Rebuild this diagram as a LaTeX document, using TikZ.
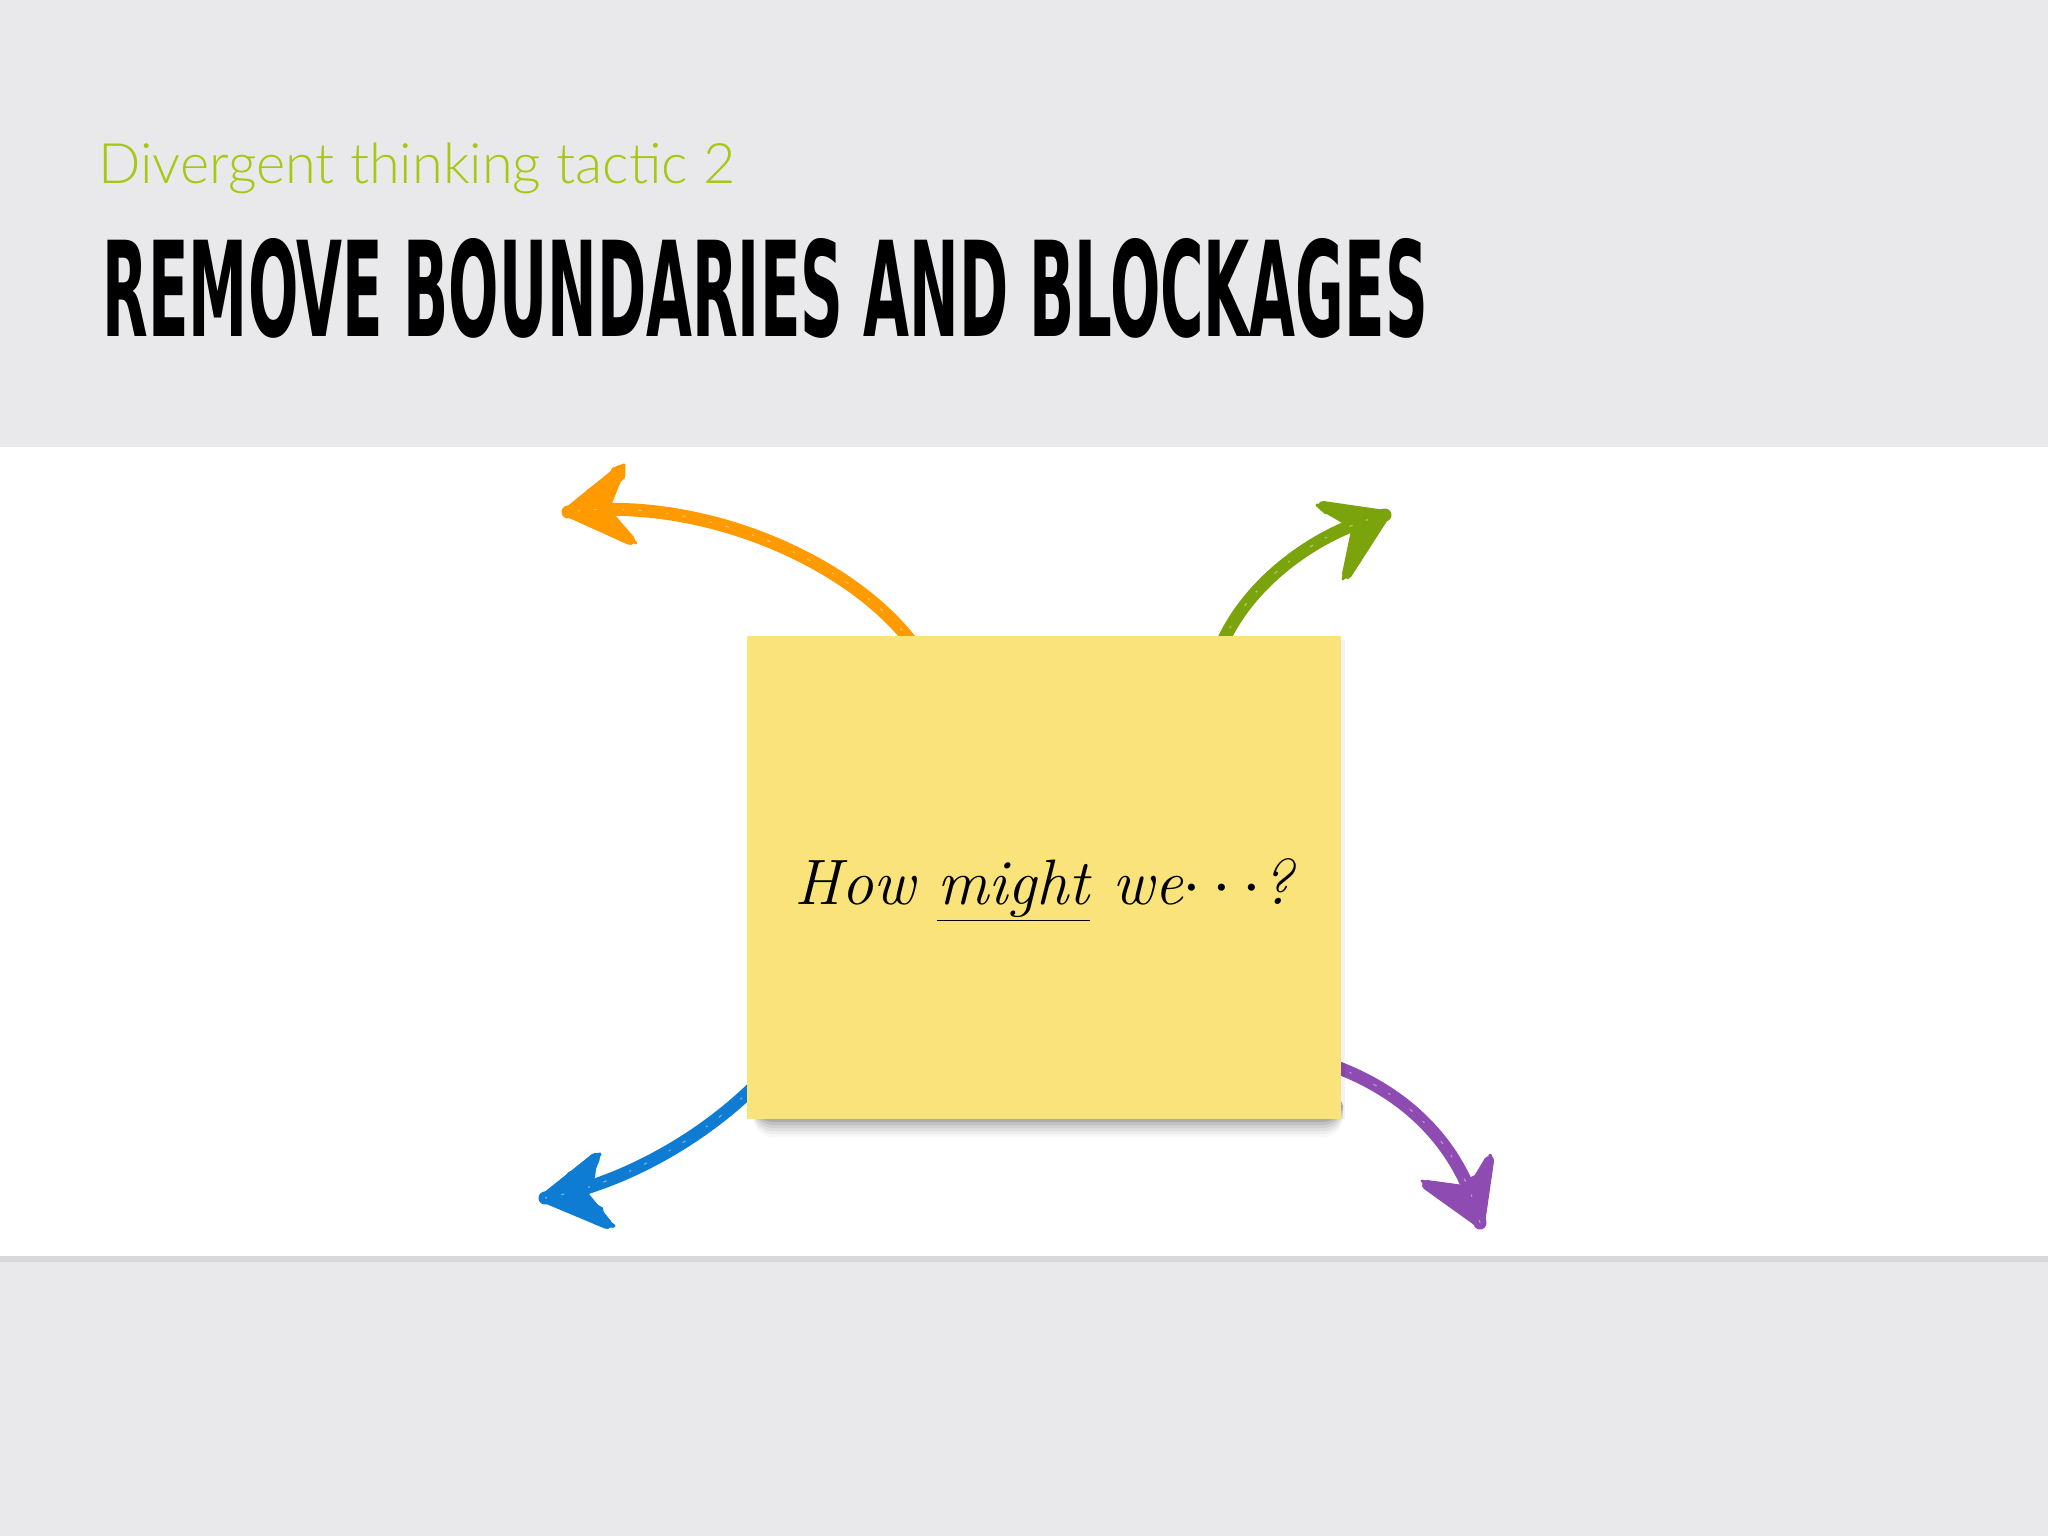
\documentclass[tikz,border=0pt]{standalone}
\usepackage{fontspec}
\usepackage{graphicx}
\usetikzlibrary{calc,decorations.pathmorphing}
\newfontfamily\subfont{Lato Light}
\newfontfamily\titlefont{DejaVu Sans Condensed Bold}
\definecolor{bggray}{RGB}{233,233,235}
\definecolor{linegray}{RGB}{216,216,218}
\definecolor{subgreen}{RGB}{166,200,20}
\definecolor{notey}{RGB}{249,227,122}
\definecolor{corange}{RGB}{255,154,0}
\definecolor{cgreen}{RGB}{122,163,12}
\definecolor{cblue}{RGB}{14,124,210}
\definecolor{cpurple}{RGB}{142,76,178}
\tikzset{
  crayon/.style={line width=13*0.2845pt, line cap=round, draw=#1},
  crayonedge/.style={line width=3.5*0.2845pt, draw=#1, line cap=round,
     decorate, decoration={random steps, segment length=3pt, amplitude=1.2pt}},
  crayonspeck/.style={line width=1.2*0.2845pt, draw=white, opacity=0.4,
     dash pattern=on 1pt off 4pt on 0.6pt off 7pt},
  headfill/.style={fill=#1, draw=#1, line width=10*0.2845pt, line join=round, line cap=round},
  headedge/.style={draw=#1, line width=3*0.2845pt, line join=round,
     decorate, decoration={random steps, segment length=3pt, amplitude=1.2pt}},
  notebox/.style={fill=notey, minimum width=59.4mm, minimum height=48.3mm, inner sep=0pt, outer sep=0pt},
}
\begin{document}
\pgfmathsetseed{7}
\begin{tikzpicture}[x=0.01cm, y=-0.01cm]
\useasboundingbox (0,0) rectangle (2048,1536);
% backgrounds
\fill[bggray] (0,0) rectangle (2048,1536);
\fill[white] (0,447) rectangle (2048,1257);
\fill[linegray] (0,1256) rectangle (2048,1262);

% titles
\node[anchor=base west, inner sep=0pt, text=subgreen] (sub) at (98,183)
  {\resizebox{63.6mm}{!}{\fontsize{18.3pt}{20pt}\subfont Divergent thinking tactic 2}};
\node[anchor=base west, inner sep=0pt] (title) at (102,336)
  {\resizebox{132.4mm}{9.8mm}{\titlefont REMOVE BOUNDARIES AND BLOCKAGES}};

% note position (defined first so arrows can refer to it)
\path (1044,877.5) node[notebox, fill=none] (note) {};

% arrow coordinates
\coordinate (os) at ($(note.north west)+(166,8)$);
\coordinate (ot) at (568,512);
\coordinate (gs) at ($(note.north west)+(475,8)$);
\coordinate (gt) at (1385,515);
\coordinate (bs) at ($(note.north west)+(8,450)$);
\coordinate (bt) at (545,1198);
\coordinate (ps) at ($(note.north east)+(-8,430)$);
\coordinate (pt) at (1480,1223);

% orange
\draw[crayon=corange] (os) .. controls (850,560) and (700,495) .. (ot);
\draw[crayonedge=corange] (os) .. controls (850,560) and (700,495) .. (ot);
\filldraw[headfill=corange] (ot) -- ++(52,-42) -- ++(-16,40) -- ++(26,30) -- cycle;
\draw[headedge=corange] (ot) -- ++(56,-47) -- ++(-18,44) -- ++(30,34) -- cycle;
\draw[crayonspeck] (os) .. controls (850,560) and (700,495) .. (ot);

% green
\draw[crayon=cgreen] (gs) .. controls (1250,580) and (1320,530) .. (gt);
\draw[crayonedge=cgreen] (gs) .. controls (1250,580) and (1320,530) .. (gt);
\filldraw[headfill=cgreen] (gt) -- ++(-62,-9) -- ++(34,20) -- ++(-10,48) -- cycle;
\draw[headedge=cgreen] (gt) -- ++(-68,-10) -- ++(38,22) -- ++(-12,52) -- cycle;
\draw[crayonspeck] (gs) .. controls (1250,580) and (1320,530) .. (gt);

% blue
\draw[crayon=cblue] (bs) .. controls (700,1140) and (620,1185) .. (bt);
\draw[crayonedge=cblue] (bs) .. controls (700,1140) and (620,1185) .. (bt);
\filldraw[headfill=cblue] (bt) -- ++(50,-40) -- ++(-14,34) -- ++(26,32) -- cycle;
\draw[headedge=cblue] (bt) -- ++(55,-44) -- ++(-16,38) -- ++(30,34) -- cycle;
\draw[crayonspeck] (bs) .. controls (700,1140) and (620,1185) .. (bt);

% purple
\draw[crayon=cpurple] (ps) .. controls (1400,1090) and (1460,1140) .. (pt);
\draw[crayonedge=cpurple] (ps) .. controls (1400,1090) and (1460,1140) .. (pt);
\filldraw[headfill=cpurple] (pt) -- ++(9,-62) -- ++(-18,30) -- ++(-44,-6) -- cycle;
\draw[headedge=cpurple] (pt) -- ++(10,-68) -- ++(-20,34) -- ++(-48,-8) -- cycle;
\draw[crayonspeck] (ps) .. controls (1400,1090) and (1460,1140) .. (pt);

% shadow of the note
\foreach \d/\o in {18/0.03,15/0.04,12/0.05,9/0.06,6/0.08,3/0.1}{
  \fill[black, opacity=\o, rounded corners=6] ($(note.south west)+(6,-30)$) rectangle ($(note.south east)+(2,\d)$);
}
\fill[black, opacity=0.05] ($(note.north east)+(0,4)$) rectangle ($(note.south east)+(4,0)$);

% note
\node[notebox] (note2) at (note.center) {};

% handwriting
\node[anchor=base, inner sep=0pt] (hmw) at (1044,904)
  {\resizebox{49.9mm}{!}{\fontsize{23.7pt}{26pt}\selectfont\itshape How \underline{might} we\ensuremath{\cdots}?}};
\end{tikzpicture}
\end{document}
